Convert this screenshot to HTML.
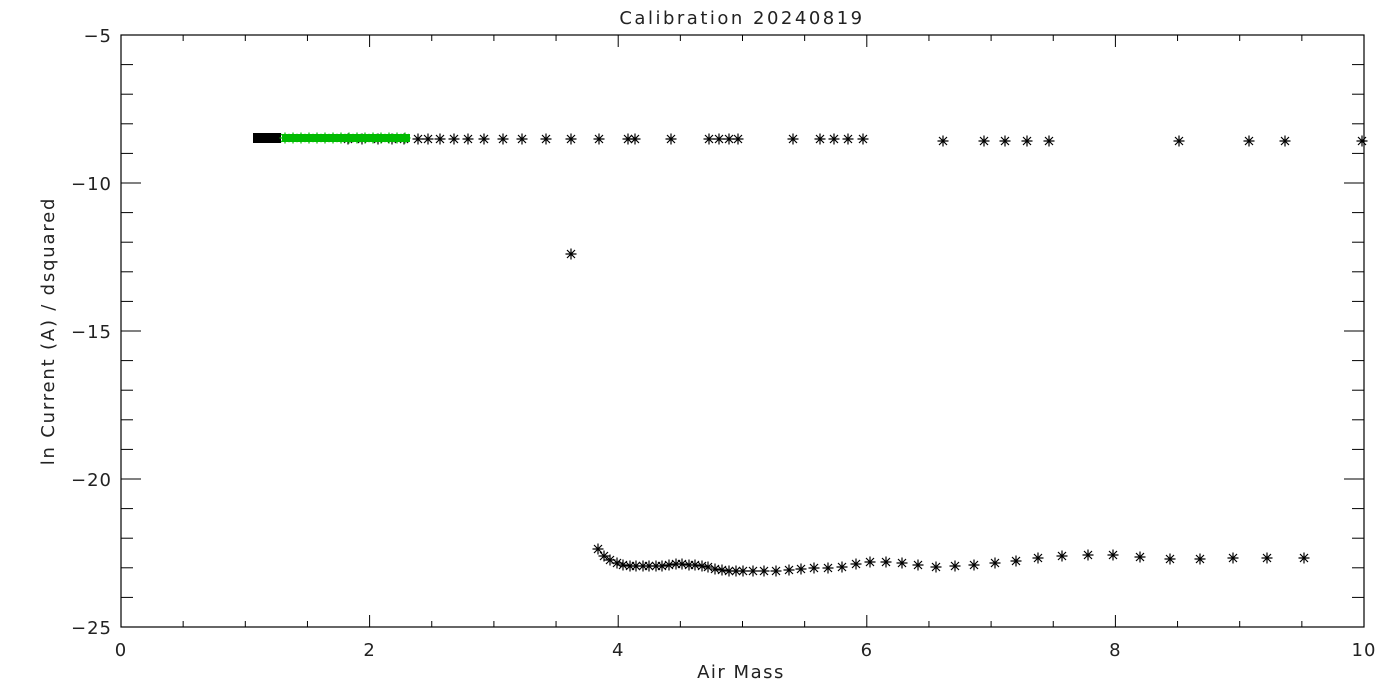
<!DOCTYPE html>
<html><head><style>body{margin:0;background:#fff}svg{display:block}text{font-family:"DejaVu Sans","Liberation Sans",sans-serif;font-size:18px;fill:#222;letter-spacing:1px}</style></head>
<body>
<svg id="s" width="1400" height="700" xmlns="http://www.w3.org/2000/svg">
<defs><g id="a" stroke-width="1.2"><path d="M-5.5 0H5.5M0-5.5V5.5M-4-4L4 4M-4 4L4-4"/></g></defs>
<rect x="121" y="35" width="1243" height="592" fill="none" stroke="#000" stroke-width="1.2"/>
<text x="742" y="24" text-anchor="middle" font-size="21" style="letter-spacing:2.5px">Calibration 20240819</text>
<text x="741" y="678" text-anchor="middle" style="letter-spacing:1.5px">Air Mass</text>
<text transform="translate(54,331) rotate(-90)" text-anchor="middle" style="letter-spacing:1.8px">ln Current (A) / dsquared</text>
<g id="t" stroke="#000" stroke-width="1"></g>
<g id="p" stroke="#000"></g>
<rect x="253" y="133" width="28" height="10" fill="#000"/>
<rect x="282" y="134" width="128" height="8" fill="#0b0"/>
<g id="g" stroke="#0b0"></g>
</svg>
<script>
const ns="http://www.w3.org/2000/svg",t=document.getElementById('t'),s=document.getElementById('s');
function L(x1,y1,x2,y2){const l=document.createElementNS(ns,'line');l.setAttribute('x1',x1);l.setAttribute('y1',y1);l.setAttribute('x2',x2);l.setAttribute('y2',y2);t.appendChild(l);}
function T(x,y,str,anc){const e=document.createElementNS(ns,'text');e.setAttribute('x',x);e.setAttribute('y',y);e.setAttribute('text-anchor',anc);e.textContent=str;s.appendChild(e);}
for(let i=0;i<=20;i++){const x=121+i*62.15,maj=i%4==0,len=maj?12:6;L(x,627,x,627-len);L(x,35,x,35+len);if(maj)T(x,656,String(i/2),'middle');}
for(let i=0;i<=20;i++){const y=35+i*29.6,maj=i%5==0,len=maj?20:12;L(121,y,121+len,y);L(1364,y,1364-len,y);if(maj)T(112,y+7,(i==0?'\u22125':'\u2212'+(5+i)),'end');}
function P(g,x,y){const u=document.createElementNS(ns,'use');u.setAttribute('href','#a');u.setAttribute('x',x);u.setAttribute('y',y);document.getElementById(g).appendChild(u);}
[348,362,378,392,404,418,428,440,454,468,484,503,522,546,571,599,628,635,671,709,719,729,738,793,820,834,848,863,943,984,1005,1027,1049,1179,1249,1285,1362].forEach((x,i)=>P('p',x,x>900?141:139));
for(let x=285;x<410;x+=8)P('g',x,138);
P('p',571,254);
[[598,549],[604,556],[610,560],[617,563],[623,565],[630,566],[636,566],[643,566],[649,566],[656,566],[662,566],[669,565],[676,564],[682,564],[689,565],[695,565],[702,566],[708,567],[715,569],[722,570],[729,571],[736,571],[743,571],[753,571],[764,571],[776,571],[789,570],[801,569],[814,568],[828,568],[842,567],[856,564],[870,562],[886,562],[902,563],[918,565],[936,567],[955,566],[974,565],[995,563],[1016,561],[1038,558],[1062,556],[1088,555],[1113,555],[1140,557],[1170,559],[1200,559],[1233,558],[1267,558],[1304,558]].forEach(p=>P('p',p[0],p[1]));
</script>
</body></html>
